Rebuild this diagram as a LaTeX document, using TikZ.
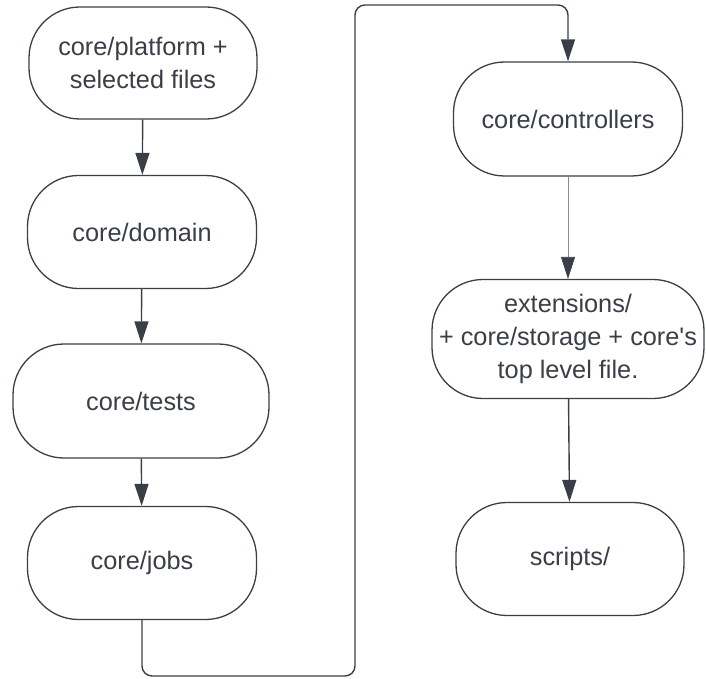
\documentclass[tikz,border=0pt]{standalone}
\usepackage{fontspec}
\newfontfamily\lucid{Liberation Sans}
\usetikzlibrary{arrows.meta}
\definecolor{ink}{HTML}{3A3F47}
\tikzset{
	stage/.style={draw=ink,line width=1.3pt,rectangle,rounded corners=51pt,align=center,text=ink,
		font=\lucid\fontsize{25.3}{33}\selectfont},
	link/.style={draw=ink,line width=1.4pt,-{Triangle[width=14pt,length=22pt,color=ink]}},
}
\begin{document}
\begin{tikzpicture}[x=1pt,y=-1pt]
		\useasboundingbox (0,0) rectangle (706,679);
			% left column
			\node[stage,minimum width=228pt,minimum height=112pt] (platform) at (143,63) {core/platform +\\selected files};
			\node[stage,minimum width=229pt,minimum height=113pt] (domain) at (142,232) {core/domain};
			\node[stage,minimum width=256pt,minimum height=114pt] (tests) at (141,401) {core/tests};
			\node[stage,minimum width=229pt,minimum height=113pt] (jobs) at (142,563) {core/jobs};
			% right column
			\node[stage,minimum width=229pt,minimum height=114pt] (controllers) at (568,119) {core/controllers};
			\node[stage,minimum width=272pt,minimum height=119pt] (ext) at (568,339) {extensions/\\+ core/storage + core's\\top level file.};
			\node[stage,minimum width=228pt,minimum height=113pt] (scripts) at (570,559) {scripts/};
			\coordinate (lowturn) at (355,676);
			\coordinate (highturn) at (355,5);
			\draw[link] (platform) -- (domain);
			\draw[link] (domain) -- (tests);
			\draw[link] (tests) -- (jobs);
			\draw[link,rounded corners=10pt] (jobs.south) |- (lowturn) -- (highturn) -| (controllers.north);
			\draw[link,draw=ink!60,line width=0.8pt] (controllers) -- (ext);
			\draw[link] (ext) -- (scripts);
	\end{tikzpicture}
\end{document}
